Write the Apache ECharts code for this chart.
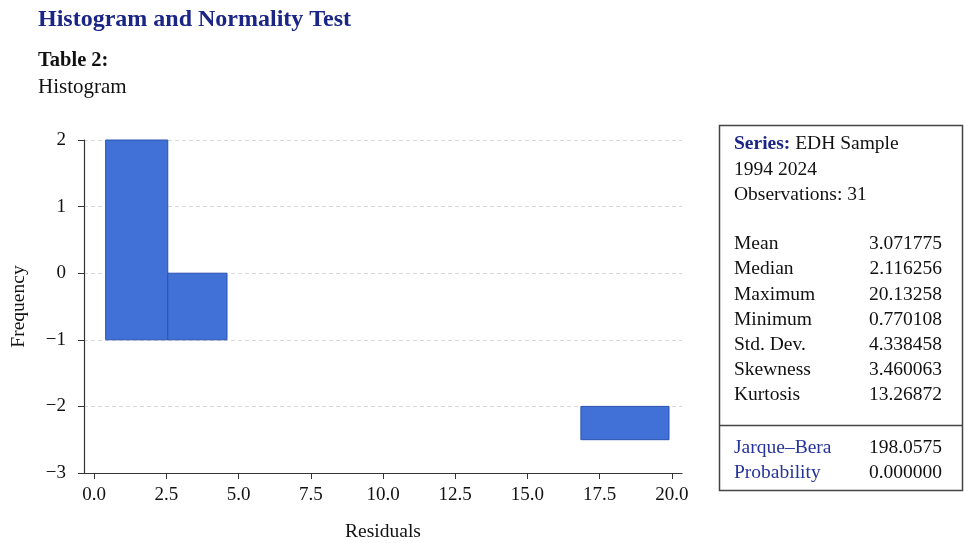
<!DOCTYPE html>
<html>
<head>
<meta charset="utf-8">
<script src="https://cdn.jsdelivr.net/npm/echarts@6/dist/echarts.min.js"></script>
<style>
html,body{margin:0;padding:0;background:#fff;}
#chart{width:964px;height:543px;}
</style>
</head>
<body>
<div id="chart"></div>
<script>
// ---- data ----
var binStart = [0.4, 2.55, 16.85];
var binEnd   = [2.55, 4.6, 19.9];
var binLow   = [-1, -1, -2.5];
var binHigh  = [2, 0, -2];
var xTicks = [0, 2.5, 5, 7.5, 10, 12.5, 15, 17.5, 20];
var yTicks = [-3, -2, -1, 0, 1, 2];
var headerLines = ['1994 2024', 'Observations: 31'];
var statLabels = ['Mean', 'Median', 'Maximum', 'Minimum', 'Std. Dev.', 'Skewness', 'Kurtosis'];
var statValues = ['3.071775', '2.116256', '20.13258', '0.770108', '4.338458', '3.460063', '13.26872'];
var testLabels = ['Jarque\u2013Bera', 'Probability'];
var testValues = ['198.0575', '0.000000'];

var FONT = '"Liberation Serif", "Times New Roman", serif';
var NAVY = '#1b2585';
var BLUE2 = '#26339a';

var seriesData = binStart.map(function (s, i) {
  return [s, binEnd[i], binLow[i], binHigh[i]];
});

function fmtMinus(v) {
  return v < 0 ? '\u2212' + Math.abs(v) : String(v);
}

var graphics = [];
function txt(x, y, text, opt) {
  opt = opt || {};
  graphics.push({
    type: 'text', x: x, y: y, silent: true,
    style: {
      text: text, x: 0, y: 0,
      font: (opt.bold ? 'bold ' : '') + (opt.size || 19.5) + 'px ' + FONT,
      fill: opt.color || '#111',
      textAlign: opt.align || 'left',
      textVerticalAlign: 'middle'
    }
  });
}

txt(38, 20, 'Histogram and Normality Test', { bold: true, size: 24, color: NAVY });
txt(38, 61, 'Table 2:', { bold: true, size: 20.5 });
txt(38, 87, 'Histogram', { size: 21 });

// stats box
graphics.push({
  type: 'rect', silent: true,
  shape: { x: 719.5, y: 125.5, width: 243, height: 365 },
  style: { fill: '#fff', stroke: '#444', lineWidth: 1.5 },
  z: 0
});
graphics.push({
  type: 'line', silent: true,
  shape: { x1: 719.5, y1: 425.5, x2: 962.5, y2: 425.5 },
  style: { stroke: '#444', lineWidth: 1.5 }
});

var LX = 734, RX = 942;
graphics.push({
  type: 'text', silent: true, x: LX, y: 144,
  style: {
    text: '{b|Series:} EDH Sample', x: 0, y: 0,
    font: '19.5px ' + FONT, fill: '#111', textVerticalAlign: 'middle',
    rich: { b: { fontFamily: FONT, fontSize: 19.5, fontWeight: 'bold', fill: NAVY } }
  }
});
headerLines.forEach(function (t, i) { txt(LX, 170 + i * 25, t); });
statLabels.forEach(function (t, i) {
  var y = 244 + i * 25.2;
  txt(LX, y, t);
  txt(RX, y, statValues[i], { align: 'right' });
});
testLabels.forEach(function (t, i) {
  var y = 448 + i * 24.5;
  txt(LX, y, t, { color: BLUE2 });
  txt(RX, y, testValues[i], { align: 'right' });
});

var chart = echarts.init(document.getElementById('chart'), null, { renderer: 'canvas' });
chart.setOption({
  animation: false,
  backgroundColor: '#fff',
  grid: { left: 84, right: 282, top: 140, bottom: 70, containLabel: false, outerBoundsMode: 'none' },
  xAxis: {
    type: 'value', min: -0.35, max: 20.35,
    name: 'Residuals', nameLocation: 'middle', nameGap: 49,
    nameTextStyle: { fontFamily: FONT, fontSize: 19.5, color: '#111' },
    axisLine: { show: true, onZero: false, lineStyle: { color: '#333', width: 1.2 } },
    axisTick: { show: true, length: 6, customValues: xTicks, lineStyle: { color: '#333' } },
    axisLabel: {
      customValues: xTicks, margin: 13,
      fontFamily: FONT, fontSize: 19, color: '#111',
      formatter: function (v) { return v.toFixed(1); }
    },
    splitLine: { show: false }
  },
  yAxis: {
    type: 'value', min: -3, max: 2, interval: 1,
    name: 'Frequency', nameLocation: 'middle', nameGap: 55, nameRotate: 90,
    nameTextStyle: { fontFamily: FONT, fontSize: 19.5, color: '#111' },
    axisLine: { show: true, onZero: false, lineStyle: { color: '#333', width: 1.2 } },
    axisTick: { show: true, length: 6, lineStyle: { color: '#333' } },
    axisLabel: {
      margin: 18, fontFamily: FONT, fontSize: 19, color: '#111',
      formatter: fmtMinus
    },
    splitLine: { show: true, lineStyle: { color: '#d9d9d9', type: [4, 3], width: 1 } }
  },
  series: [{
    type: 'custom',
    data: seriesData,
    encode: { x: [0, 1], y: [2, 3] },
    renderItem: function (params, api) {
      var p1 = api.coord([api.value(0), api.value(3)]);
      var p2 = api.coord([api.value(1), api.value(2)]);
      return {
        type: 'rect',
        shape: { x: p1[0], y: p1[1], width: p2[0] - p1[0], height: p2[1] - p1[1] },
        style: { fill: '#4170d6', stroke: '#2b52ad', lineWidth: 1 }
      };
    }
  }],
  graphic: graphics
});
</script>
</body>
</html>
